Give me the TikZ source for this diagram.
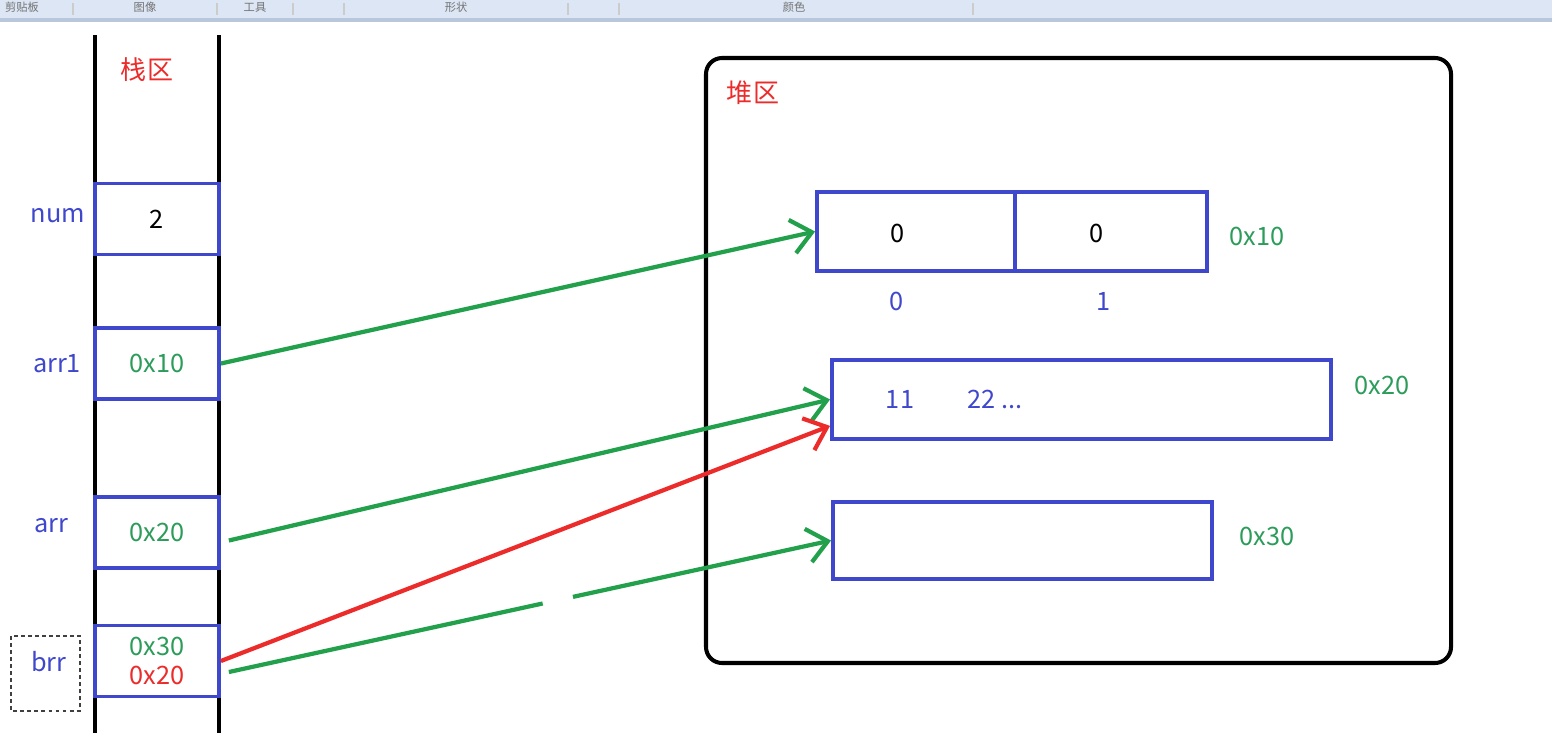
\documentclass[tikz,border=0pt]{standalone}
\usepackage{fontspec}
\setmainfont{Noto Sans CJK SC}
\usetikzlibrary{arrows.meta, positioning, calc}
\definecolor{memBlue}{HTML}{3F48CC}
\definecolor{memGreen}{HTML}{22A04B}
\definecolor{memText}{HTML}{2C9C5A}
\definecolor{memRed}{HTML}{EC2B2B}
\definecolor{barBlue}{HTML}{DCE6F4}
\definecolor{barLine}{HTML}{B9C7DB}

\begin{document}
\begin{tikzpicture}[x=0.01cm, y=-0.01cm,
    cell/.style={rectangle, draw=memBlue, fill=white, line width=1.05pt,
                 inner sep=0pt, minimum width=1.24cm, minimum height=0.71cm,
                 font=\fontsize{7.2}{8}\selectfont, align=center},
    heapcell/.style={rectangle, draw=memBlue, line width=1.05pt,
                 inner sep=0pt, minimum height=0.79cm},
    varlabel/.style={font=\fontsize{7.2}{8}\selectfont, text=memBlue},
    addr/.style={font=\fontsize{7.2}{8}\selectfont, text=memText},
    zonelabel/.style={font=\fontsize{7.4}{8}\selectfont, text=memRed},
    value/.style={font=\fontsize{7.2}{8}\selectfont},
    ptr/.style={-{Straight Barb[length=0.2cm, width=0.34cm]},
                line width=1.2pt, draw=memGreen},
    menu/.style={font=\fontsize{3.2}{4}\selectfont, text=black!55},
  ]
  \useasboundingbox (0,0) rectangle (1552,733);

  % toolbar strip
  \fill[barBlue] (0,0) rectangle (1552,18);
  \fill[barLine] (0,18) rectangle (1552,22);
  \foreach \x in {73,217,293,344,568,619,973}
    \draw[black!20, line width=0.3pt] (\x,3) -- (\x,15);
  \node[menu] (mClip) at (22,7) {剪贴板};
  \node[menu] (mImage) at (145,7) {图像};
  \node[menu] (mTool) at (255,7) {工具};
  \node[menu] (mShape) at (456,7) {形状};
  \node[menu] (mColor) at (794,7) {颜色};

  % stack
  \draw[line width=1.15pt] (95,35) -- (95,733);
  \draw[line width=1.15pt] (219,35) -- (219,733);
  \node[zonelabel] (stackLbl) at (147,70) {栈区};

  \node[cell] (num) at (157,219) {2};
  \node[cell] (arr1) at (157,363.5) {\color{memText}0x10};
  \node[cell] (arr) at (157,532.5) {\color{memText}0x20};
  \node[cell] (brr) at (157,661) {\color{memText}0x30\\[0.2pt]\color{memRed}0x20};

  \node[varlabel] (numLbl) at (58,216) {num};
  \node[varlabel] (arr1Lbl) at (57,364) {arr1};
  \node[varlabel] (arrLbl) at (51,526) {arr};
  \node[varlabel] (brrLbl) at (49,662) {brr};
  \draw[black!75, line width=0.35pt, dash pattern=on 1.1pt off 0.9pt]
    (11,636) rectangle (80,711);

  % heap
  \draw[line width=1.15pt, rounded corners=0.16cm] (706,58) rectangle (1451,663);
  \node[zonelabel] (heapLbl) at (753,93) {堆区};

  \node[heapcell, minimum width=1.98cm] (cellA) at (916,231.5) {};
  \node[heapcell, minimum width=1.92cm] (cellB) at (1111,231.5) {};
  \node[value] (valA) at (898,233) {0};
  \node[value] (valB) at (1097,233) {0};
  \node[varlabel] (idxA) at (897,301) {0};
  \node[varlabel] (idxB) at (1104,301) {1};
  \node[addr] (addrA) at (1257,236) {0x10};

  \node[heapcell, minimum width=4.99cm] (heapB) at (1081.5,399.5) {};
  \node[varlabel] (valC) at (900,399) {11};
  \node[varlabel] (valD) at (995,399) {22 ...};
  \node[addr] (addrB) at (1382,385) {0x20};

  \node[heapcell, minimum width=3.79cm, minimum height=0.77cm] (heapC) at (1022.5,540.5) {};
  \node[addr] (addrC) at (1267,536) {0x30};

  % pointers
  \draw[ptr] (arr1.east) -- (cellA.west);
  \draw[ptr] ($(arr.east)+(8,8)$) -- (heapB.west);
  \draw[ptr, draw=memRed] (brr.east) -- ($(heapB.south west)+(0,-15)$);
  \draw[ptr, dash pattern=on 3.21cm off 0.31cm on 4cm]
    ($(brr.east)+(8,11)$) -- (heapC.west);
\end{tikzpicture}
\end{document}
